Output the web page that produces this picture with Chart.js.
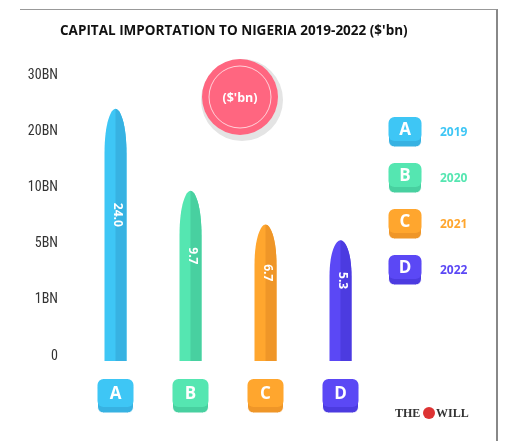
<!DOCTYPE html>
<html><head><meta charset="utf-8">
<script src="https://cdn.jsdelivr.net/npm/chart.js@4"></script>
<style>
html,body{margin:0;padding:0;background:#fff;}
#wrap{position:relative;width:506px;height:441px;}
#frame{position:absolute;left:20px;top:9px;width:476px;height:440px;border-top:1px solid #999;border-right:2px solid #888;}
</style></head>
<body><div id="wrap"><div id="frame"></div><canvas id="c" width="506" height="441"></canvas></div>
<script>
// data
const categories = ['A','B','C','D'];
const years = ['2019','2020','2021','2022'];
const values = [24.0, 9.7, 6.7, 5.3];
const tickValues = [0, 1, 5, 10, 20, 30];
const tickLabels = ['0','1BN','5BN','10BN','20BN','30BN'];
const colors = ['#3ec6f5','#55e6b1','#ffa62e','#5b48f5'];
const darks  = ['#37b2e2','#48d0a0','#ef9628','#4c3be0'];

// piecewise position between uneven ticks
function toIndex(v){
  for(let i=1;i<tickValues.length;i++){
    if(v<=tickValues[i]) return i-1+(v-tickValues[i-1])/(tickValues[i]-tickValues[i-1]);
  }
  return tickValues.length-1;
}

function rr(ctx,x,y,w,h,r){ctx.beginPath();ctx.roundRect(x,y,w,h,r);}

function badge(ctx,cx,cy,w,h,i,letter,fs){
  ctx.fillStyle=darks[i]; rr(ctx,cx-w/2,cy-h/2+4,w,h,6); ctx.fill();
  ctx.strokeStyle='#fff'; ctx.lineWidth=1; ctx.stroke();
  ctx.fillStyle=colors[i]; rr(ctx,cx-w/2,cy-h/2,w,h-2,6); ctx.fill();
  ctx.fillStyle='#fff'; ctx.font='bold '+fs+'px "Open Sans",sans-serif';
  ctx.textAlign='center'; ctx.textBaseline='middle'; ctx.fillText(letter,cx,cy);
}

const deco = {
  id:'deco',
  afterDatasetsDraw(chart){
    const ctx=chart.ctx, meta=chart.getDatasetMeta(0);
    meta.data.forEach((el,i)=>{
      const w=22, x=el.x, top=el.y, base=el.base+5, cap=Math.min(45,(base-top)*0.3);
      ctx.save();
      ctx.beginPath();
      ctx.moveTo(x-w/2,base); ctx.lineTo(x-w/2,top+cap);
      ctx.bezierCurveTo(x-w/2,top+cap*0.3,x-w*0.2,top,x,top);
      ctx.bezierCurveTo(x+w*0.2,top,x+w/2,top+cap*0.3,x+w/2,top+cap);
      ctx.lineTo(x+w/2,base); ctx.closePath();
      ctx.fillStyle=colors[i]; ctx.fill(); ctx.clip();
      ctx.fillStyle=darks[i]; ctx.fillRect(x,top,w,base-top);
      ctx.restore();
      ctx.save();
      ctx.translate(x+2,(top+base)/2-20); ctx.rotate(Math.PI/2);
      ctx.fillStyle='#fff'; ctx.font='bold 12px "Open Sans",sans-serif';
      ctx.textAlign='center'; ctx.textBaseline='middle';
      ctx.fillText(values[i].toFixed(1),0,0);
      ctx.restore();
      badge(ctx,x,394,36,30,i,categories[i],17);
      // legend
      const ly=130+i*46;
      badge(ctx,405,ly,33,26,i,categories[i],17);
      ctx.fillStyle=colors[i]; ctx.font='bold 12px "Open Sans",sans-serif';
      ctx.textAlign='left'; ctx.fillText(years[i],440,ly+3);
    });
    // title
    ctx.fillStyle='#111'; ctx.font='bold 13.5px "Open Sans",sans-serif';
    ctx.textAlign='left'; ctx.textBaseline='middle';
    ctx.fillText("CAPITAL IMPORTATION TO NIGERIA 2019-2022 ($'bn)",60,31);
    // circle
    ctx.fillStyle='#e4e4e4'; ctx.beginPath(); ctx.arc(242,100,41,0,7); ctx.fill();
    ctx.fillStyle='#ff6680'; ctx.beginPath(); ctx.arc(240,97,38,0,7); ctx.fill();
    ctx.strokeStyle='rgba(255,255,255,0.7)'; ctx.lineWidth=1; ctx.beginPath(); ctx.arc(240,97,31,0,7); ctx.stroke();
    ctx.fillStyle='#fff'; ctx.font='bold 12.5px "Open Sans",sans-serif'; ctx.textAlign='center';
    ctx.fillText("($'bn)",240,98);
    // logo
    ctx.fillStyle='#333'; ctx.font='bold 12px "Liberation Serif",serif'; ctx.textAlign='left';
    ctx.fillText('THE',395,414);
    ctx.fillStyle='#d33'; ctx.beginPath(); ctx.arc(429,413,6,0,7); ctx.fill();
    ctx.fillStyle='#333'; ctx.fillText('WILL',436,414);
  }
};

new Chart(document.getElementById('c'),{
  type:'bar',
  data:{labels:categories,datasets:[{data:values.map(toIndex),backgroundColor:'transparent',barThickness:22}]},
  options:{
    responsive:false,animation:false,
    layout:{padding:{left:0,right:128,top:75,bottom:77}},
    plugins:{legend:{display:false},tooltip:{enabled:false}},
    scales:{
      x:{grid:{display:false},border:{display:false},ticks:{display:false}},
      y:{min:0,max:5,grid:{display:false},border:{display:false},
         afterFit:s=>{s.width=78;},
         ticks:{stepSize:1,padding:12,color:'#333',font:{family:'"Roboto Condensed","Liberation Sans Narrow",Roboto,sans-serif',size:14},
           callback:v=>tickLabels[v]}}
    }
  },
  plugins:[deco]
});
</script></body></html>
